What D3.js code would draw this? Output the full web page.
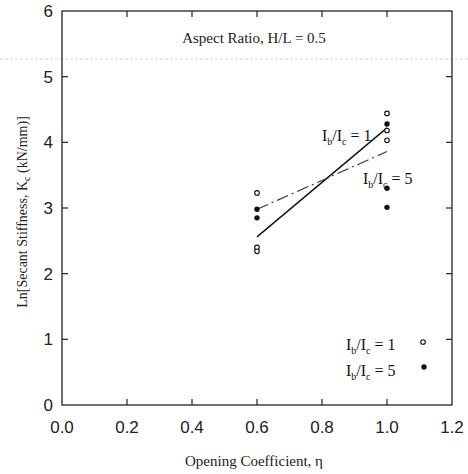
<!DOCTYPE html>
<html>
<head>
<meta charset="utf-8">
<script src="https://cdn.jsdelivr.net/npm/d3@7"></script>
<style>
  body { margin: 0; background: #fff; }
  svg { display: block; }
</style>
</head>
<body>
<svg></svg>
<script>
// data
const xTicks = [0.0, 0.2, 0.4, 0.6, 0.8, 1.0, 1.2];
const yTicks = [0, 1, 2, 3, 4, 5, 6];

const openX = [0.6, 0.6, 0.6, 1.0, 1.0, 1.0];
const openY = [3.23, 2.40, 2.34, 4.44, 4.18, 4.03];
const filledX = [0.6, 0.6, 1.0, 1.0, 1.0];
const filledY = [2.98, 2.85, 4.28, 3.30, 3.01];

// fitted lines (Ib/Ic = 1 solid, Ib/Ic = 5 dashed)
const fitX = [0.6, 1.0];
const fit1Y = [2.56, 4.22];
const fit5Y = [2.98, 3.86];

const svgWidth = 468;
const svgHeight = 474;
const margin = { top: 11, right: 16, bottom: 69, left: 62 };

const svg = d3.select('svg')
    .attr('width', svgWidth)
    .attr('height', svgHeight);

const x = d3.scaleLinear().domain([0, 1.2]).range([margin.left, svgWidth - margin.right]);
const y = d3.scaleLinear().domain([0, 6]).range([svgHeight - margin.bottom, margin.top]);

const sans = 'Liberation Sans, Arial, sans-serif';
const serif = 'Liberation Serif, Times New Roman, serif';

// faint scan streak across the page
svg.append('line')
    .attr('x1', 0).attr('x2', svgWidth)
    .attr('y1', 59).attr('y2', 59)
    .attr('stroke', '#d2d2d2')
    .attr('stroke-width', 1)
    .attr('stroke-dasharray', '3,2');

// frame
svg.append('rect')
    .attr('x', x(0)).attr('y', y(6))
    .attr('width', x(1.2) - x(0))
    .attr('height', y(0) - y(6))
    .attr('fill', 'none')
    .attr('stroke', '#222')
    .attr('stroke-width', 1.3);

const tickLen = 6;
const inner = xTicks.slice(1, -1);
const innerY = yTicks.slice(1, -1);

svg.append('g').selectAll('line')
    .data(inner).enter().append('line')
    .attr('x1', d => x(d)).attr('x2', d => x(d))
    .attr('y1', y(0)).attr('y2', y(0) - tickLen)
    .attr('stroke', '#222').attr('stroke-width', 1.2);

svg.append('g').selectAll('line')
    .data(inner).enter().append('line')
    .attr('x1', d => x(d)).attr('x2', d => x(d))
    .attr('y1', y(6)).attr('y2', y(6) + tickLen)
    .attr('stroke', '#222').attr('stroke-width', 1.2);

svg.append('g').selectAll('line')
    .data(innerY).enter().append('line')
    .attr('x1', x(0)).attr('x2', x(0) + tickLen)
    .attr('y1', d => y(d)).attr('y2', d => y(d))
    .attr('stroke', '#222').attr('stroke-width', 1.2);

svg.append('g').selectAll('line')
    .data(innerY).enter().append('line')
    .attr('x1', x(1.2)).attr('x2', x(1.2) - tickLen)
    .attr('y1', d => y(d)).attr('y2', d => y(d))
    .attr('stroke', '#222').attr('stroke-width', 1.2);

// tick labels
svg.append('g').selectAll('text')
    .data(xTicks).enter().append('text')
    .attr('x', d => x(d))
    .attr('y', y(0) + 28)
    .attr('text-anchor', 'middle')
    .attr('font-family', sans)
    .attr('font-size', 17)
    .attr('fill', '#222')
    .text(d => d.toFixed(1));

svg.append('g').selectAll('text')
    .data(yTicks).enter().append('text')
    .attr('x', x(0) - 9)
    .attr('y', d => y(d) + 6)
    .attr('text-anchor', 'end')
    .attr('font-family', sans)
    .attr('font-size', 17)
    .attr('fill', '#222')
    .text(d => d);

// axis titles
svg.append('text')
    .attr('x', 254).attr('y', 466)
    .attr('text-anchor', 'middle')
    .attr('font-family', serif)
    .attr('font-size', 15)
    .attr('fill', '#222')
    .text('Opening Coefficient, η');

const yt = svg.append('text')
    .attr('transform', 'translate(27,212) rotate(-90)')
    .attr('text-anchor', 'middle')
    .attr('font-family', serif)
    .attr('font-size', 14)
    .attr('fill', '#222');
yt.append('tspan').text('Ln[Secant Stiffness, K');
yt.append('tspan').attr('font-size', 10).attr('dy', 3).text('c');
yt.append('tspan').attr('dy', -3).text(' (kN/mm)]');

svg.append('text')
    .attr('x', 254).attr('y', 43)
    .attr('text-anchor', 'middle')
    .attr('font-family', serif)
    .attr('font-size', 15)
    .attr('fill', '#222')
    .text('Aspect Ratio, H/L = 0.5');

// fitted lines
const line = d3.line()
    .x(d => x(d[0]))
    .y(d => y(d[1]));

svg.append('path')
    .datum(d3.zip(fitX, fit1Y))
    .attr('fill', 'none')
    .attr('stroke', '#111')
    .attr('stroke-width', 1.4)
    .attr('d', line);

svg.append('path')
    .datum(d3.zip(fitX, fit5Y))
    .attr('fill', 'none')
    .attr('stroke', '#333')
    .attr('stroke-width', 1.1)
    .attr('stroke-dasharray', '12,4,2,4')
    .attr('d', line);

// points
svg.append('g').selectAll('circle')
    .data(d3.zip(openX, openY)).enter().append('circle')
    .attr('cx', d => x(d[0]))
    .attr('cy', d => y(d[1]))
    .attr('r', 2.3)
    .attr('fill', '#fff')
    .attr('stroke', '#111')
    .attr('stroke-width', 1.1);

svg.append('g').selectAll('circle')
    .data(d3.zip(filledX, filledY)).enter().append('circle')
    .attr('cx', d => x(d[0]))
    .attr('cy', d => y(d[1]))
    .attr('r', 2.7)
    .attr('fill', '#111');

// ratio label helper: I_b/I_c = n
function ratioLabel(px, py, n) {
    const t = svg.append('text')
        .attr('x', px).attr('y', py)
        .attr('font-family', serif)
        .attr('font-size', 16)
        .attr('fill', '#111');
    t.append('tspan').text('I');
    t.append('tspan').attr('font-size', 10).attr('dy', 4).text('b');
    t.append('tspan').attr('dy', -4).text('/I');
    t.append('tspan').attr('font-size', 10).attr('dy', 4).text('c');
    t.append('tspan').attr('dy', -4).text(' = ' + n);
}

ratioLabel(322, 141, 1);
ratioLabel(363, 184, 5);

// legend
ratioLabel(346, 350, 1);
ratioLabel(346, 376, 5);

svg.append('circle')
    .attr('cx', 423).attr('cy', 342).attr('r', 2.3)
    .attr('fill', '#fff').attr('stroke', '#111').attr('stroke-width', 1.1);
svg.append('circle')
    .attr('cx', 424).attr('cy', 367).attr('r', 2.7)
    .attr('fill', '#111');
</script>
</body>
</html>
